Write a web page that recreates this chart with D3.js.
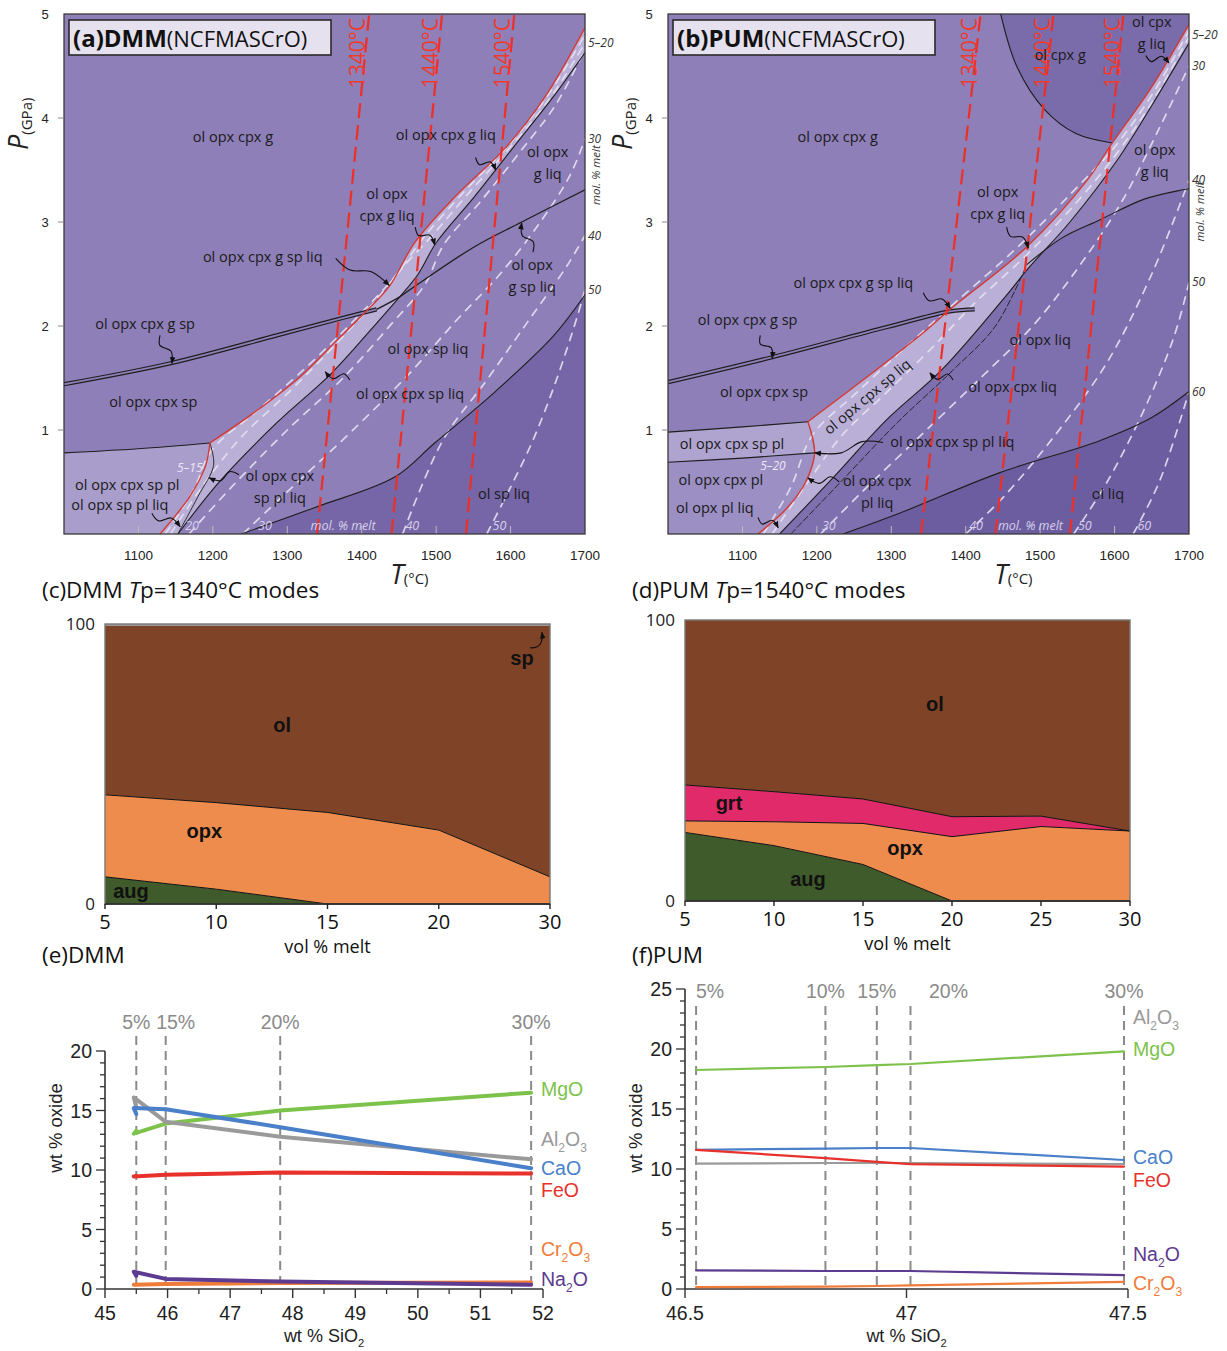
<!DOCTYPE html>
<html><head><meta charset="utf-8">
<script src="https://cdn.jsdelivr.net/npm/d3@7"></script>
<style>body{margin:0;background:#fff}</style>
</head><body><svg id="c" width="1227" height="1351"></svg>
<script>
// ---------------- DATA ----------------
const T_DOMAIN=[1000,1700], P_DOMAIN=[0,5];
const tempTicks=[1100,1200,1300,1400,1500,1600,1700];
const pressTicks=[1,2,3,4,5];
const isothermTp=[1340,1440,1540];
const isothermTopA=[1410,1508,1605];
const isothermTopB=[1420,1518,1612];

// panel a (DMM) boundaries [T degC, P GPa]
const solidusLoA=[[1129,0],[1169,0.36],[1190,0.65],[1196,0.875]];
const solidusHiA=[[1196,0.875],[1254,1.16],[1317,1.51],[1365,1.85],[1403,2.12],[1437,2.38],[1471,2.8],[1525,3.24],[1594,3.72],[1646,4.2],[1700,4.87]];
const bandLowerA=[[1153,0],[1211,0.52],[1286,1.07],[1360,1.55],[1424,2.06],[1451,2.28],[1476,2.5],[1500,2.8],[1551,3.24],[1604,3.72],[1657,4.2],[1700,4.63]];
const plagSpA=[[1000,0.78],[1100,0.82],[1196,0.875]];
const plagOutA=[[1196,0.875],[1201,0.66],[1180,0.36],[1153,0]];
const gtSpA=[[1000,1.44],[1142,1.64],[1286,1.91],[1365,2.06],[1420,2.16]];
const gtOutA=[[1420,2.16],[1451,2.28],[1471,2.38],[1551,2.76],[1615,3.0],[1700,3.31]];
const opxOutA=[[1238,0],[1339,0.26],[1445,0.55],[1498,0.875],[1578,1.36],[1657,1.9],[1700,2.3]];
const iso5A=[[1136,0],[1174,0.42],[1198,0.8],[1262,1.2],[1328,1.62],[1385,2.02],[1445,2.48],[1482,2.84],[1536,3.28],[1600,3.76],[1652,4.24],[1700,4.8]];
const iso10A=[[1143,0],[1188,0.48],[1238,0.93],[1300,1.35],[1362,1.8],[1418,2.24],[1462,2.62],[1491,2.84],[1544,3.28],[1602,3.74],[1655,4.21],[1700,4.72]];
const iso20A=[[1168,0],[1225,0.45],[1300,1.0],[1375,1.5],[1440,2.02],[1485,2.4],[1510,2.78],[1560,3.2],[1610,3.65],[1660,4.12],[1700,4.66]];
const iso30A=[[1240,0],[1317,0.52],[1384,0.97],[1465,1.55],[1528,2.06],[1586,2.5],[1640,3.0],[1680,3.45],[1700,3.8]];
const iso40A=[[1455,0],[1509,0.9],[1568,1.48],[1622,2.03],[1675,2.57],[1700,2.87]];
const iso50A=[[1568,0],[1600,0.45],[1630,0.9],[1660,1.45],[1690,2.1],[1700,2.35]];

// panel b (PUM) boundaries
const solidusLoB=[[1121,0],[1160,0.25],[1185,0.5],[1197,0.78],[1188,1.08]];
const solidusHiB=[[1188,1.08],[1262,1.48],[1347,1.96],[1379,2.16],[1482,2.76],[1563,3.4],[1597,3.76],[1650,4.3],[1700,4.9]];
const bandLowerB=[[1150,0],[1219,0.52],[1294,1.1],[1368,1.58],[1453,2.28],[1486,2.57],[1540,3.0],[1607,3.63],[1650,4.12],[1700,4.72]];
const cpxOutB=[[1165,0],[1232,0.5],[1308,1.07],[1382,1.57],[1440,2.0],[1482,2.59]];
const gtOutB=[[1482,2.59],[1530,2.85],[1580,3.02],[1640,3.22],[1692,3.31],[1700,3.32]];
const opxOutB=[[1235,0],[1311,0.2],[1446,0.59],[1581,0.9],[1650,1.12],[1700,1.37]];
const gtSpB=[[1000,1.46],[1140,1.70],[1294,1.99],[1379,2.14],[1412,2.16]];
const plUpB=[[1000,0.98],[1100,1.03],[1188,1.08]];
const plLowB=[[1000,0.69],[1100,0.73],[1197,0.78]];
const cpxInB=[[1447,5],[1469,4.49],[1506,4.08],[1548,3.85],[1597,3.76]];
const iso5B=[[1128,0],[1165,0.45],[1194,0.95],[1252,1.35],[1320,1.8],[1385,2.22],[1470,2.76],[1545,3.3],[1600,3.72],[1650,4.22],[1700,4.84]];
const iso15B=[[1140,0],[1188,0.5],[1234,0.95],[1292,1.35],[1356,1.8],[1412,2.22],[1480,2.67],[1548,3.18],[1603,3.66],[1651,4.16],[1700,4.78]];
const iso30B=[[1205,0],[1260,0.4],[1340,0.95],[1420,1.5],[1490,2.0],[1550,2.55],[1610,3.2],[1660,3.9],[1700,4.5]];
const iso40B=[[1400,0],[1450,0.35],[1520,0.95],[1590,1.65],[1650,2.5],[1700,3.4]];
const iso50B=[[1545,0],[1590,0.5],[1640,1.2],[1680,1.9],[1700,2.42]];
const iso60B=[[1625,0],[1660,0.5],[1700,1.37]];

// panel c: DMM modes
const meltC=[5,10,15,20,30];
const augC=[9.7,5.3,0,0,0];
const opxC=[29.3,30.9,32.7,26.4,9.7];
const olC=[60.3,63.1,66.6,72.9,89.6];
const spC=[0.7,0.7,0.7,0.7,0.7];
// panel d: PUM modes
const meltD=[5,10,15,20,25,30];
const augD=[24.4,19.7,13,0,0,0];
const opxD=[4.1,8.5,14.6,22.9,26.5,24.9];
const grtD=[12.8,10.7,8.7,7.1,3.7,0];
const olD=[58.7,61.1,63.7,70.0,69.8,75.1];

// panel e: DMM melt compositions (points at 5,10,15,20,30 % melt)
const siO2E=[45.50,45.46,45.97,47.80,51.81];
const guideSiE=[45.50,45.97,47.80,51.81];
const guideLabE=["5%","15%","20%","30%"];
const mgoE=[13.3,13.05,13.9,15.0,16.5];
const al2o3E=[15.3,16.1,14.05,12.8,10.9];
const caoE=[14.7,15.2,15.1,13.6,10.15];
const feoE=[9.5,9.45,9.6,9.8,9.7];
const cr2o3E=[0.35,0.35,0.42,0.5,0.55];
const na2oE=[1.1,1.45,0.85,0.62,0.35];
// panel f: PUM melt compositions
const siO2F=[46.525,46.817,46.933,47.009,47.491];
const guideLabF=["5%","10%","15%","20%","30%"];
const mgoF=[18.25,18.5,18.65,18.75,19.8];
const al2o3F=[10.45,10.5,10.5,10.5,10.4];
const caoF=[11.6,11.7,11.75,11.75,10.75];
const feoF=[11.6,10.9,10.6,10.4,10.2];
const na2oF=[1.55,1.5,1.5,1.5,1.15];
const cr2o3F=[0.15,0.2,0.25,0.3,0.6];
const ticksE_x=[45,46,47,48,49,50,51,52], ticksE_y=[0,5,10,15,20];
const ticksF_x=[46.5,47,47.5], ticksF_y=[0,5,10,15,20,25];

// ---------------- DRAW ----------------
const svg=d3.select('#c');
svg.append('rect').attr('width',1227).attr('height',1351).attr('fill','#fff');
const defs=svg.append('defs');
defs.append('marker').attr('id','ah').attr('viewBox','0 0 10 10').attr('refX',9).attr('refY',5)
  .attr('markerWidth',7).attr('markerHeight',7).attr('markerUnits','userSpaceOnUse').attr('orient','auto')
  .append('path').attr('d','M0,1L10,5L0,9Z').attr('fill','#111');
const FO="'Open Sans','Noto Sans',sans-serif", FA="'Liberation Sans',Arial,sans-serif";
const COL={base:'#8e7fb8',band:'#b9afd7',plag:'#a99dcb',dark:'#7666a7',dark1:'#7e6fae',dark2:'#6c5da1',spPl:'#afa4cf',pl:'#9c8fc3',cpxg:'#7a6bab',iso:'#e6e2f2',black:'#1e1e1e',red:'#d8362c',rdash:'#ee2f25'};

function phasePanel(o){
  const x=d3.scaleLinear(T_DOMAIN,[o.x0,o.x1]);
  const y=d3.scaleLinear(P_DOMAIN,[534,14]);
  const cid='clip'+o.id;
  defs.append('clipPath').attr('id',cid).append('rect').attr('x',o.x0).attr('y',14).attr('width',o.x1-o.x0).attr('height',520);
  const g=svg.append('g');
  const pg=g.append('g').attr('clip-path',`url(#${cid})`);
  const ln=d3.line().x(d=>x(d[0])).y(d=>y(d[1])).curve(d3.curveCatmullRom.alpha(0.5));
  const poly=segs=>segs.map((s,i)=>{const d=ln(s);return i?'L'+d.slice(1):d;}).join('')+'Z';
  pg.append('rect').attr('x',o.x0).attr('y',14).attr('width',o.x1-o.x0).attr('height',520).attr('fill',COL.base);
  o.regions.forEach(r=>pg.append('path').attr('d',poly(r.segs)).attr('fill',r.fill));
  o.isopleths.forEach(s=>pg.append('path').attr('d',ln(s)).attr('fill','none').attr('stroke',COL.iso)
    .attr('stroke-width',1.7).attr('stroke-dasharray','9,6').attr('opacity',0.9));
  pg.append('path').attr('d',ln(o.dbl)).attr('fill','none').attr('stroke',COL.black).attr('stroke-width',4.2);
  pg.append('path').attr('d',ln(o.dbl)).attr('fill','none').attr('stroke',COL.base).attr('stroke-width',1.8);
  o.lines.forEach(l=>pg.append('path').attr('d',ln(l.pts)).attr('fill','none').attr('stroke',COL.black)
    .attr('stroke-width',l.w||1.1).attr('stroke-dasharray',l.dash||null));
  o.solidus.forEach(s=>pg.append('path').attr('d',ln(s)).attr('fill','none').attr('stroke',COL.red).attr('stroke-width',1.3));
  isothermTp.forEach((tp,i)=>{
    pg.append('line').attr('x1',x(tp)).attr('y1',y(0)).attr('x2',x(o.isoTop[i])).attr('y2',y(5))
      .attr('stroke',COL.rdash).attr('stroke-width',2.2).attr('stroke-dasharray','15,7');
    g.append('text').attr('transform',`translate(${x(o.isoTop[i])-4},${y(5)+4}) rotate(-90)`)
      .attr('text-anchor','end').attr('font-family',FO).attr('font-size',21).attr('fill','#f03a2c').text(tp+'°C');
  });
  tempTicks.slice(0,-1).forEach(t=>g.append('line').attr('x1',x(t)).attr('x2',x(t)).attr('y1',534).attr('y2',526).attr('stroke','#bbb').attr('stroke-width',1));
  g.append('rect').attr('x',o.x0).attr('y',14).attr('width',o.x1-o.x0).attr('height',520).attr('fill','none').attr('stroke','#3a3a3a').attr('stroke-width',1.3);
  o.labels.forEach(l=>{
    const lines=Array.isArray(l[0])?l[0]:[l[0]];
    const t=g.append('text').attr('font-family',FO).attr('font-size',14.5).attr('fill','#1a1a1a').attr('text-anchor','middle')
      .attr('transform',`translate(${x(l[1])},${y(l[2])})`+(l[3]?` rotate(${l[3]})`:''));
    lines.forEach((s,k)=>t.append('tspan').attr('x',0).attr('y',(k-(lines.length-1)/2)*22+5).text(s));
  });
  o.leaders.forEach(L=>{
    const s=[x(L[0][0]),y(L[0][1])], e=[x(L[1][0]),y(L[1][1])];
    const dx=e[0]-s[0], dy=e[1]-s[1], len=Math.hypot(dx,dy), nx=-dy/len*4, ny=dx/len*4;
    const pts=[s,[s[0]+dx*0.3+nx,s[1]+dy*0.3+ny],[s[0]+dx*0.62-nx,s[1]+dy*0.62-ny],e];
    g.append('path').attr('d',d3.line().curve(d3.curveCatmullRom)(pts)).attr('fill','none').attr('stroke','#111').attr('stroke-width',1.1).attr('marker-end','url(#ah)');
  });
  g.append('text').attr('x',x(o.bandLab[1])).attr('y',y(o.bandLab[2])).attr('font-family',FO).attr('font-size',12).attr('font-style','italic').attr('fill','#ece8f6').attr('text-anchor','middle').text(o.bandLab[0]);
  o.bottomLabs.forEach(b=>g.append('text').attr('x',x(b[1])).attr('y',530).attr('font-family',FO).attr('font-size',12.5).attr('font-style','italic').attr('fill','#d6d0ea').attr('text-anchor','middle').text(b[0]));
  o.rightLabs.forEach(b=>g.append('text').attr('x',o.x1+3).attr('y',y(b[1])+4).attr('font-family',FO).attr('font-size',12).attr('font-style','italic').attr('fill','#333').text(b[0]));
  g.append('text').attr('transform',`translate(${o.x1+15},${y(o.molP)}) rotate(-90)`).attr('text-anchor','middle').attr('font-family',FO).attr('font-size',11.5).attr('font-style','italic').attr('fill','#333').text('mol. % melt');
  pressTicks.forEach(p=>{
    g.append('text').attr('x',o.x0-19).attr('y',y(p)+5).attr('text-anchor','middle').attr('font-family',FA).attr('font-size',13).attr('fill','#222').text(p);
    if(p<5) g.append('line').attr('x1',o.x0-6).attr('x2',o.x0).attr('y1',y(p)).attr('y2',y(p)).attr('stroke','#888');
  });
  tempTicks.forEach(t=>g.append('text').attr('x',x(t)).attr('y',560).attr('text-anchor','middle').attr('font-family',FA).attr('font-size',13.5).attr('fill','#222').text(t));
  const tl=g.append('text').attr('x',x(1640)-150).attr('y',584).attr('font-family',FO).attr('fill','#222');
  tl.append('tspan').attr('font-size',27).attr('font-style','italic').text('T');
  tl.append('tspan').attr('font-size',15).text('(°C)');
  const pl=g.append('text').attr('transform',`translate(${o.x0-36},150) rotate(-90)`).attr('font-family',FO).attr('fill','#222');
  pl.append('tspan').attr('font-size',27).attr('font-style','italic').text('P');
  pl.append('tspan').attr('font-size',15).attr('dy',4).text('(GPa)');
  g.append('rect').attr('x',o.x0+5).attr('y',20).attr('width',o.boxW).attr('height',35).attr('fill','#e5e1ee').attr('stroke','#2a2a2a').attr('stroke-width',1.6);
  const tt=g.append('text').attr('x',o.x0+9).attr('y',47).attr('font-family',FO).attr('fill','#111');
  tt.append('tspan').attr('font-size',24).attr('font-weight','bold').text(o.title[0]);
  tt.append('tspan').attr('font-size',22).text(o.title[1]);
}

phasePanel({id:'a',x0:64,x1:585,isoTop:isothermTopA,solidus:[solidusLoA,solidusHiA],dbl:gtSpA,boxW:262,
  title:['(a)DMM','(NCFMASCrO)'],molP:3.45,
  regions:[
    {fill:COL.plag,segs:[plagSpA,solidusLoA.slice().reverse(),[[1000,0]]]},
    {fill:COL.band,segs:[solidusLoA,solidusHiA,bandLowerA.slice().reverse()]},
    {fill:COL.dark,segs:[opxOutA,[[1700,0]]]}
  ],
  isopleths:[iso5A,iso10A,iso20A,iso30A,iso40A,iso50A],
  lines:[{pts:bandLowerA},{pts:plagSpA},{pts:plagOutA,w:0.9},{pts:gtOutA,w:1.3},{pts:opxOutA}],
  labels:[["ol opx cpx g",1227,3.82],["ol opx cpx g liq",1513,3.84],[["ol opx","g liq"],1650,3.57],[["ol opx","cpx g liq"],1434,3.16],
    ["ol opx cpx g sp liq",1267,2.66],[["ol opx","g sp liq"],1629,2.48],["ol opx cpx g sp",1109,2.02],["ol opx sp liq",1489,1.78],
    ["ol opx cpx sp liq",1465,1.35],["ol opx cpx sp",1120,1.27],[["ol opx cpx","sp pl liq"],1290,0.45],["ol opx cpx sp pl",1085,0.47],
    ["ol opx sp pl liq",1075,0.28],["ol sp liq",1591,0.38]],
  leaders:[[[1553,3.62],[1580,3.5]],[[1472,2.95],[1498,2.78]],[[1365,2.65],[1437,2.39]],[[1630,2.71],[1615,2.99]],
    [[1129,1.91],[1145,1.64]],[[1384,1.48],[1351,1.56]],[[1235,0.57],[1195,0.54]],[[1118,0.2],[1156,0.07]]],
  bandLab:['5–15',1169,0.6],
  bottomLabs:[['20',1172],['30',1270],['mol. % melt',1375],['40',1468],['50',1585]],
  rightLabs:[['5–20',4.72],['30',3.8],['40',2.87],['50',2.35]]
});
phasePanel({id:'b',x0:668,x1:1189,isoTop:isothermTopB,solidus:[solidusLoB,solidusHiB],dbl:gtSpB,boxW:262,
  title:['(b)PUM','(NCFMASCrO)'],molP:3.1,
  regions:[
    {fill:COL.pl,segs:[plLowB,solidusLoB.filter(p=>p[1]<=0.78).reverse(),[[1000,0]]]},
    {fill:COL.spPl,segs:[plUpB,[[1188,1.08],[1197,0.78]],plLowB.slice().reverse()]},
    {fill:COL.cpxg,segs:[cpxInB,solidusHiB.filter(p=>p[1]>=3.76),[[1700,5]]]},
    {fill:COL.dark1,segs:[bandLowerB.filter(p=>p[1]<=2.6),gtOutB,[[1700,0]]]},
    {fill:COL.band,segs:[solidusLoB,solidusHiB,bandLowerB.slice().reverse()]},
    {fill:COL.dark2,segs:[opxOutB,[[1700,0]]]}
  ],
  isopleths:[iso5B,iso15B,iso30B,iso40B,iso50B,iso60B],
  lines:[{pts:bandLowerB},{pts:cpxOutB,w:0.9,dash:'7,2'},{pts:gtOutB},{pts:opxOutB},{pts:plUpB},{pts:plLowB},{pts:cpxInB}],
  labels:[["ol opx cpx g",1228,3.82],["ol cpx g",1527,4.61],[["ol cpx","g liq"],1650,4.82],[["ol opx","g liq"],1654,3.59],
    [["ol opx","cpx g liq"],1443,3.18],["ol opx cpx g sp liq",1249,2.41],["ol opx cpx g sp",1107,2.06],["ol opx liq",1500,1.87],
    ["ol opx cpx sp liq",1268,1.32,-40],["ol opx cpx liq",1463,1.41],["ol opx cpx sp",1129,1.37],["ol opx cpx sp pl",1086,0.87],
    ["ol opx cpx sp pl liq",1382,0.88],["ol opx cpx pl",1071,0.52],[["ol opx cpx","pl liq"],1281,0.40],["ol opx pl liq",1063,0.25],["ol liq",1591,0.38]],
  leaders:[[[1642,4.6],[1673,4.53]],[[1455,2.95],[1484,2.75]],[[1343,2.32],[1379,2.17]],[[1124,1.91],[1140,1.69]],
    [[1383,1.48],[1352,1.55]],[[1289,0.88],[1197,0.78]],[[1230,0.5],[1188,0.54]],[[1121,0.16],[1148,0.06]]],
  bandLab:['5–20',1141,0.62],
  bottomLabs:[['30',1216],['40',1414],['mol. % melt',1487],['50',1560],['60',1640]],
  rightLabs:[['5–20',4.8],['30',4.5],['40',3.4],['50',2.42],['60',1.37]]
});

// ---- mode panels ----
const MODECOL={ol:'#7f4427',opx:'#ee8c4e',aug:'#3f5a2b',grt:'#e02a69',sp:'#9a9a9a'};
function modePanel(o){
  const x=d3.scalePoint().domain(o.melt).range([o.x0,o.x1]);
  const y=d3.scaleLinear([0,100],[o.yb,o.yt]);
  const rows=o.melt.map((m,i)=>{const r={m};o.keys.forEach(k=>r[k]=o.data[k][i]);return r;});
  const st=d3.stack().keys(o.keys)(rows);
  const g=svg.append('g');
  const ar=d3.area().x(d=>x(d.data.m)).y0(d=>y(d[0])).y1(d=>y(d[1]));
  st.forEach(s=>g.append('path').attr('d',ar(s)).attr('fill',MODECOL[s.key]));
  const tl=d3.line().x(d=>x(d.data.m)).y(d=>y(d[1]));
  st.slice(0,-1).forEach(s=>{ if(s.key!=='ol') g.append('path').attr('d',tl(s)).attr('fill','none').attr('stroke','#111').attr('stroke-width',1);});
  g.append('rect').attr('x',o.x0).attr('y',o.yt).attr('width',o.x1-o.x0).attr('height',o.yb-o.yt).attr('fill','none').attr('stroke','#777').attr('stroke-width',1.4);
  g.append('line').attr('x1',o.x0).attr('x2',o.x1).attr('y1',o.yb).attr('y2',o.yb).attr('stroke','#222').attr('stroke-width',1.6);
  o.melt.forEach(m=>{
    g.append('line').attr('x1',x(m)).attr('x2',x(m)).attr('y1',o.yb).attr('y2',o.yb+5).attr('stroke','#222').attr('stroke-width',1.4);
    g.append('text').attr('x',x(m)).attr('y',o.yb+25).attr('text-anchor','middle').attr('font-family',FO).attr('font-size',20).attr('fill','#111').text(m);
  });
  g.append('text').attr('x',o.x0-10).attr('y',o.yt+6).attr('text-anchor','end').attr('font-family',FO).attr('font-size',17).attr('fill','#222').text('100');
  g.append('text').attr('x',o.x0-10).attr('y',o.yb+6).attr('text-anchor','end').attr('font-family',FO).attr('font-size',17).attr('fill','#222').text('0');
  g.append('text').attr('x',(o.x0+o.x1)/2).attr('y',o.yb+49).attr('text-anchor','middle').attr('font-family',FO).attr('font-size',18).attr('fill','#111').text('vol % melt');
  const t=g.append('text').attr('x',o.tx).attr('y',598).attr('font-family',FO).attr('font-size',22.5).attr('fill','#111');
  t.append('tspan').text(o.title[0]+' ');
  t.append('tspan').attr('font-style','italic').text('T');
  t.append('tspan').text('p=');
  t.append('tspan').text(o.title[1]);
  o.labels.forEach(l=>g.append('text').attr('x',x(l[1])+(l[3]||0)).attr('y',y(l[2])+7).attr('text-anchor','middle').attr('font-family',FA).attr('font-weight','bold').attr('font-size',20).attr('fill','#111').text(l[0]));
  if(o.spLeader){
    const s=[x(o.spLeader[0][0])+o.spLeader[0][2],y(o.spLeader[0][1])], e=[x(o.spLeader[1][0])+o.spLeader[1][2],y(o.spLeader[1][1])];
    g.append('path').attr('d',`M${s[0]},${s[1]}Q${e[0]+2},${s[1]+1} ${e[0]},${e[1]}`).attr('fill','none').attr('stroke','#111').attr('stroke-width',1.1).attr('marker-end','url(#ah)');
  }
}
modePanel({melt:meltC,keys:['aug','opx','ol','sp'],data:{aug:augC,opx:opxC,ol:olC,sp:spC},x0:105,x1:550,yt:624,yb:904,tx:42,
  title:['(c)DMM','1340°C modes'],labels:[['ol',10,64,66],['opx',10,26,-12],['aug',5,4.5,26],['sp',30,88,-28]],
  spLeader:[[30,91.5,-20],[30,97,-8]]});
modePanel({melt:meltD,keys:['aug','opx','grt','ol'],data:{aug:augD,opx:opxD,grt:grtD,ol:olD},x0:685,x1:1130,yt:620,yb:901,tx:632,
  title:['(d)PUM','1540°C modes'],labels:[['ol',20,70,-17],['grt',10,35,-45],['opx',20,19,-47],['aug',15,8,-55]]});

// ---- oxide panels ----
const OXCOL={MgO:'#7dc24b',Al_2O_3:'#9a9a9a',CaO:'#4a7fc9',FeO:'#e8312b',Cr_2O_3:'#f07c3a',Na_2O:'#5c3b90'};
function chem(t,s,size){
  const parts=s.split(/_(\d)/); let pend=0;
  parts.forEach((p,i)=>{ if(!p) return;
    if(i%2===1){t.append('tspan').attr('font-size',size*0.62).attr('dy',size*0.3-pend).text(p);pend=size*0.3;}
    else{t.append('tspan').attr('dy',-pend||null).text(p);pend=0;}
  });
}
function oxidePanel(o){
  const x=d3.scaleLinear(o.xd,[o.x0,o.x1]);
  const y=d3.scaleLinear(o.yd,[1289,o.yt]);
  const g=svg.append('g');
  o.guides.forEach((gx,i)=>{
    g.append('line').attr('x1',x(gx)).attr('x2',x(gx)).attr('y1',o.gTop).attr('y2',1289).attr('stroke','#8a8a8a').attr('stroke-width',2).attr('stroke-dasharray','9,6');
    g.append('text').attr('x',x(gx)+(o.gdx[i]||0)).attr('y',o.gLabY).attr('text-anchor','middle').attr('font-family',FA).attr('font-size',19.5).attr('fill','#8a8a8a').text(o.gLab[i]);
  });
  g.append('line').attr('x1',o.x0).attr('x2',o.x0).attr('y1',1289).attr('y2',o.yt).attr('stroke','#333').attr('stroke-width',1.6);
  g.append('line').attr('x1',o.x0).attr('x2',o.x1).attr('y1',1289).attr('y2',1289).attr('stroke','#333').attr('stroke-width',1.6);
  d3.range(o.yd[0],o.yd[1]+0.01,1).forEach(v=>{const maj=v%5===0;
    g.append('line').attr('x1',o.x0-(maj?9:5)).attr('x2',o.x0).attr('y1',y(v)).attr('y2',y(v)).attr('stroke','#333').attr('stroke-width',1.3);});
  o.yt_ticks.forEach(v=>g.append('text').attr('x',o.x0-13).attr('y',y(v)+7).attr('text-anchor','end').attr('font-family',FA).attr('font-size',19.5).attr('fill','#222').text(v));
  o.xMinor.forEach(v=>g.append('line').attr('x1',x(v)).attr('x2',x(v)).attr('y1',1289).attr('y2',1294).attr('stroke','#333').attr('stroke-width',1.3));
  o.xt_ticks.forEach(v=>{g.append('line').attr('x1',x(v)).attr('x2',x(v)).attr('y1',1289).attr('y2',1298).attr('stroke','#333').attr('stroke-width',1.4);
    g.append('text').attr('x',x(v)).attr('y',1320).attr('text-anchor','middle').attr('font-family',FA).attr('font-size',19.5).attr('fill','#222').text(v);});
  const xl=g.append('text').attr('x',(o.x0+o.x1)/2).attr('y',1342).attr('text-anchor','middle').attr('font-family',FA).attr('font-size',18).attr('fill','#222');
  chem(xl,'wt % SiO_2',18);
  g.append('text').attr('transform',`translate(${o.x0-43},1128) rotate(-90)`).attr('text-anchor','middle').attr('font-family',FA).attr('font-size',18.5).attr('fill','#222').text('wt % oxide');
  g.append('text').attr('x',o.tx).attr('y',963).attr('font-family',FO).attr('font-size',22.5).attr('fill','#111').text(o.title);
  const line=d3.line().x(d=>x(d[0])).y(d=>y(d[1]));
  o.series.forEach(s=>{
    g.append('path').attr('d',line(o.si.map((v,i)=>[v,s.v[i]]))).attr('fill','none').attr('stroke',OXCOL[s.k]).attr('stroke-width',o.lw).attr('stroke-linejoin','round').attr('stroke-linecap','round');
  });
  o.series.forEach(s=>{
    const t=g.append('text').attr('x',o.labX).attr('y',s.ly+7).attr('font-family',FA).attr('font-size',19.5).attr('fill',OXCOL[s.k]);
    chem(t,s.k,19.5);
  });
}
oxidePanel({xd:[45,52],yd:[0,20],x0:105,x1:543,yt:1051,si:siO2E,lw:4,guides:guideSiE,gLab:guideLabE,gdx:[0,10,0,0],gTop:1036,gLabY:1029,
  yt_ticks:ticksE_y,xt_ticks:ticksE_x,xMinor:d3.range(45.5,52,1),tx:42,title:'(e)DMM',labX:541,
  series:[{k:'MgO',v:mgoE,ly:1089},{k:'Al_2O_3',v:al2o3E,ly:1139},{k:'CaO',v:caoE,ly:1168},{k:'FeO',v:feoE,ly:1190},{k:'Cr_2O_3',v:cr2o3E,ly:1249},{k:'Na_2O',v:na2oE,ly:1279}]});
oxidePanel({xd:[46.5,47.5],yd:[0,25],x0:685,x1:1128,yt:989,si:siO2F,lw:2.2,guides:siO2F,gLab:guideLabF,gdx:[14,0,0,38,0],gTop:1006,gLabY:998,
  yt_ticks:ticksF_y,xt_ticks:ticksF_x,xMinor:[],tx:632,title:'(f)PUM',labX:1133,
  series:[{k:'Al_2O_3',v:al2o3F,ly:1017},{k:'MgO',v:mgoF,ly:1049},{k:'CaO',v:caoF,ly:1157},{k:'FeO',v:feoF,ly:1180},{k:'Na_2O',v:na2oF,ly:1254},{k:'Cr_2O_3',v:cr2o3F,ly:1283}]});
</script></body></html>
